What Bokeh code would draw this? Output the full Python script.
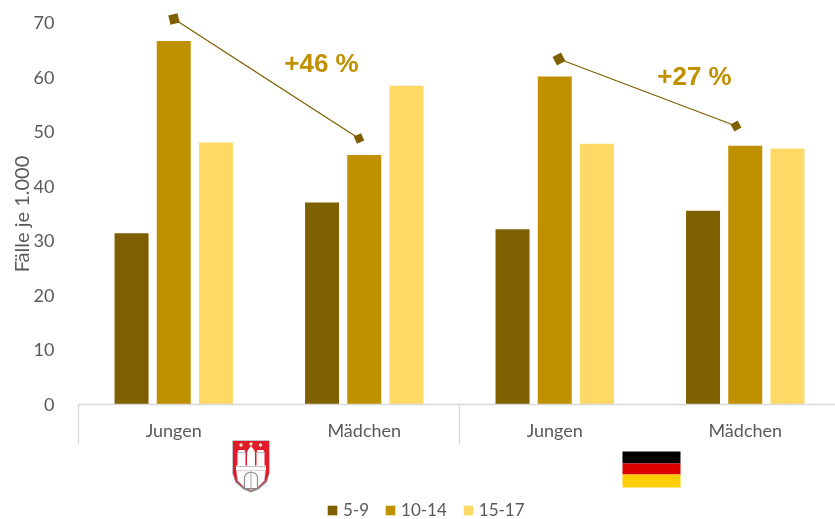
from bokeh.plotting import figure
from bokeh.embed import file_html
from bokeh.resources import INLINE
from bokeh.models import FixedTicker, Legend, LegendItem, Range1d, LinearAxis
from bokeh.core.properties import value

categories = ["Jungen", "Mädchen", "Jungen", "Mädchen"]
series_names = ["5-9", "10-14", "15-17"]
values_5_9 = [31.4, 37.0, 32.1, 35.5]
values_10_14 = [66.6, 45.7, 60.1, 47.4]
values_15_17 = [48.0, 58.4, 47.8, 46.9]
y_ticks = [0, 10, 20, 30, 40, 50, 60, 70]
colors = ["#7F6000", "#BF9000", "#FFD966"]
TXT = "#595959"
GRID = "#D9D9D9"
FONT = "Lato"

X0, PX_X, Y0, PX_Y = 78.0, 190.5, 404.0, 5.457


def dx(px):
    return (px - X0) / PX_X


def dy(py):
    return (Y0 - py) / PX_Y


p = figure(width=835, height=519, output_backend="svg", toolbar_location=None,
           x_range=Range1d(dx(0), dx(835)), y_range=Range1d(dy(519), dy(0)),
           min_border_left=0, min_border_right=0, min_border_top=0, min_border_bottom=0,
           y_axis_location=None, x_axis_location=None,
           outline_line_color=None, background_fill_color="white",
           styles={"position": "fixed", "left": "0px", "top": "0px"})
p.grid.visible = False

# y axis, pinned to the left end of the categories
yax = LinearAxis(fixed_location=0, ticker=FixedTicker(ticks=y_ticks))
yax.axis_line_color = None
yax.major_tick_line_color = None
yax.minor_tick_line_color = None
yax.major_label_text_font = FONT
yax.major_label_text_font_size = "18px"
yax.major_label_text_color = TXT
yax.major_label_standoff = 18
p.add_layout(yax, "left")

# x axis along value 0
xax = LinearAxis(fixed_location=0, bounds=(0, dx(835)), ticker=FixedTicker(ticks=[0.5, 1.5, 2.5, 3.5]),
                 major_label_overrides={i + 0.5: c for i, c in enumerate(categories)})
xax.axis_line_color = GRID
xax.axis_line_width = 1.3
xax.major_tick_line_color = None
xax.minor_tick_line_color = None
xax.major_label_text_font = FONT
xax.major_label_text_font_size = "18px"
xax.major_label_text_color = TXT
xax.major_label_standoff = 8
p.add_layout(xax, "below")

# bars
bar_w = 34 / PX_X
offs = [-42.2 / PX_X, 0, 42.2 / PX_X]
centers = [i + 0.5 for i in range(4)]
bars = []
for off, vals, col in zip(offs, [values_5_9, values_10_14, values_15_17], colors):
    bars.append(p.vbar(x=[c + off for c in centers], top=vals, bottom=0, width=bar_w,
                       fill_color=col, line_color=None))

# group separators
p.segment(x0=[0, 2], x1=[0, 2], y0=[0, 0], y1=[dy(444), dy(444)], line_color=GRID, line_width=1.3)

# connector lines
line_a_x, line_a_y = [dx(173.5), dx(358.5)], [dy(18.5), dy(138)]
line_b_x, line_b_y = [dx(558.5), dx(735.5)], [dy(58.5), dy(125.5)]
for lx, ly in ((line_a_x, line_a_y), (line_b_x, line_b_y)):
    p.line(lx, ly, line_color="#7F6000", line_width=1.2)
p.scatter(x=[line_a_x[0], line_b_x[0]], y=[line_a_y[0], line_b_y[0]], marker="square", size=9.5,
          angle=[0.24, 0.48], fill_color="#7F6000", line_color=None)
p.scatter(x=[line_a_x[1], line_b_x[1]], y=[line_a_y[1], line_b_y[1]], marker="square", size=8,
          angle=[0.42, 0.5], fill_color="#7F6000", line_color=None)

# percent labels
p.text(x=[dx(321), dx(694)], y=[dy(62), dy(75)], text=["+46 %", "+27 %"],
       text_font=value("Liberation Sans"), text_font_style="bold", text_font_size="26px",
       text_color="#BF9000", text_align="center", text_baseline="middle")

# y axis title
p.text(x=[dx(20)], y=[dy(213.5)], text=["Fälle je 1.000"], angle=90, angle_units="deg",
       text_font=value(FONT), text_font_size="20px", text_color=TXT,
       text_align="center", text_baseline="middle")

# German flag
p.quad(left=dx(622), right=dx(680), top=[dy(451), dy(463), dy(474)], bottom=[dy(463), dy(474), dy(487)],
       fill_color=["#000000", "#DD0000", "#FFCE00"], line_color=None)


# Hamburg crest
def poly(pts, fill, line=None, lw=1):
    p.patch([dx(a) for a, _ in pts], [dy(b) for _, b in pts], fill_color=fill, line_color=line, line_width=lw)


RED = "#DF1B2C"
poly([(232, 440), (269, 440), (269, 473), (266, 482), (258, 489), (250.5, 492), (243, 489), (235, 482), (232, 473)],
     "#8E8E8E")
poly([(232.5, 440.5), (268.5, 440.5), (268.5, 472), (266, 480), (258, 487), (250.5, 490), (243, 487), (235, 480), (232.5, 472)],
     RED)
poly([(236, 470), (265, 470), (264, 480), (258, 486), (250.5, 489.5), (243, 486), (237, 480)], "#FFFFFF", "#B0B0B0", 0.6)
for a, b in ((237, 245), (246.5, 254.5), (256, 264)):
    poly([(a, 452), (a + 1, 449.5), (b - 1, 449.5), (b, 452), (b, 466), (a, 466)], "#FFFFFF")
poly([(247, 450), (250.5, 445.5), (254, 450)], "#FFFFFF")
poly([(235.5, 465), (265.5, 465), (265.5, 470), (235.5, 470)], "#FFFFFF")
p.segment(x0=[dx(237), dx(256), dx(236)], x1=[dx(245), dx(264), dx(265)],
          y0=[dy(452), dy(452), dy(466)], y1=[dy(452), dy(452), dy(466)],
          line_color="#8A8A8A", line_width=0.8, line_dash="2 1")
p.scatter(x=[dx(240.5), dx(250.5), dx(260)], y=[dy(444.5), dy(443.5), dy(444.5)], marker="circle", size=3.5,
          fill_color="#F5E6C0", line_color=None)
poly([(244, 488), (244, 476), (246, 473), (250.5, 471.5), (255, 473), (257, 476), (257, 488)], "#FFFFFF", "#8A8A8A", 1.2)
p.segment(x0=[dx(250.5)], x1=[dx(250.5)], y0=[dy(473)], y1=[dy(488)], line_color="#8A8A8A", line_width=0.8)

# legend
legend = Legend(items=[LegendItem(label=n, renderers=[b]) for n, b in zip(series_names, bars)],
                orientation="horizontal", location=(326, -1), padding=0, margin=0,
                spacing=15, glyph_width=12, glyph_height=12, label_standoff=5, label_height=12,
                background_fill_alpha=0, border_line_color=None,
                label_text_font=FONT, label_text_font_size="17px", label_text_color=TXT)
p.add_layout(legend, "center")

open("out.html", "w").write(file_html(p, INLINE))
